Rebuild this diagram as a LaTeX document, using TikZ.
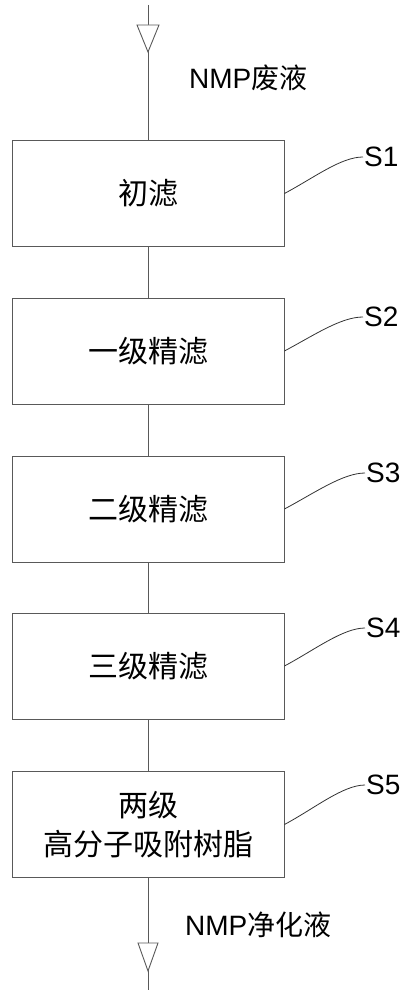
\documentclass[tikz,border=0pt]{standalone}
\usepackage{fontspec}
\setmainfont{Liberation Sans}
\newfontfamily\cjk{Noto Sans CJK SC}
\tikzset{
  stage/.style={draw=black!65, line width=0.9pt, minimum width=272pt, minimum height=106pt,
    inner sep=0pt, align=center, font=\cjk\fontsize{30}{39}\selectfont},
  flow/.style={draw=black!65, line width=0.9pt},
  valve/.style={draw=black!65, line width=0.9pt, fill=white},
  tag/.style={font=\fontsize{28}{30}\selectfont, anchor=west, inner sep=1pt},
  tagline/.style={draw=black!80, line width=0.8pt},
  stream/.style={font=\fontsize{28}{30}\selectfont, anchor=west, inner sep=0pt},
}
\begin{document}
\begin{tikzpicture}[x=1pt,y=-1pt]
  \useasboundingbox (0,0) rectangle (414,1000);
  % process stages
  \node[stage] (b1) at (148,193.5) {初滤};
  \node[stage] (b2) at (148,351) {一级精滤};
  \node[stage] (b3) at (148,509) {二级精滤};
  \node[stage] (b4) at (148,666) {三级精滤};
  \node[stage] (b5) at (148,824.5) {两级\\高分子吸附树脂};
  \coordinate (src) at (148,5);
  \coordinate (dst) at (148,990);
  % main flow
  \draw[flow] (src) -- (b1);
  \draw[flow] (b1) -- (b2);
  \draw[flow] (b2) -- (b3);
  \draw[flow] (b3) -- (b4);
  \draw[flow] (b4) -- (b5);
  \draw[flow] (b5) -- (dst);
  \draw[valve] (137,25) -- (159,25) -- (148,52) -- cycle;
  \draw[valve] (138,943) -- (158,943) -- (148,971) -- cycle;
  \node[stream] (waste) at (189,78) {NMP{\cjk 废液}};
  \node[stream] (clean) at (185,925) {NMP{\cjk 净化液}};
  % step tags
  \node[tag] (s1) at (363,157) {S1};
  \node[tag] (s2) at (363,317) {S2};
  \node[tag] (s3) at (365,473) {S3};
  \node[tag] (s4) at (365,628) {S4};
  \node[tag] (s5) at (365,785) {S5};
  \foreach \i in {1,...,5}
    \draw[tagline] (b\i.east) .. controls +(30,-16) and +(-22,0) .. (s\i.west);
\end{tikzpicture}
\end{document}
